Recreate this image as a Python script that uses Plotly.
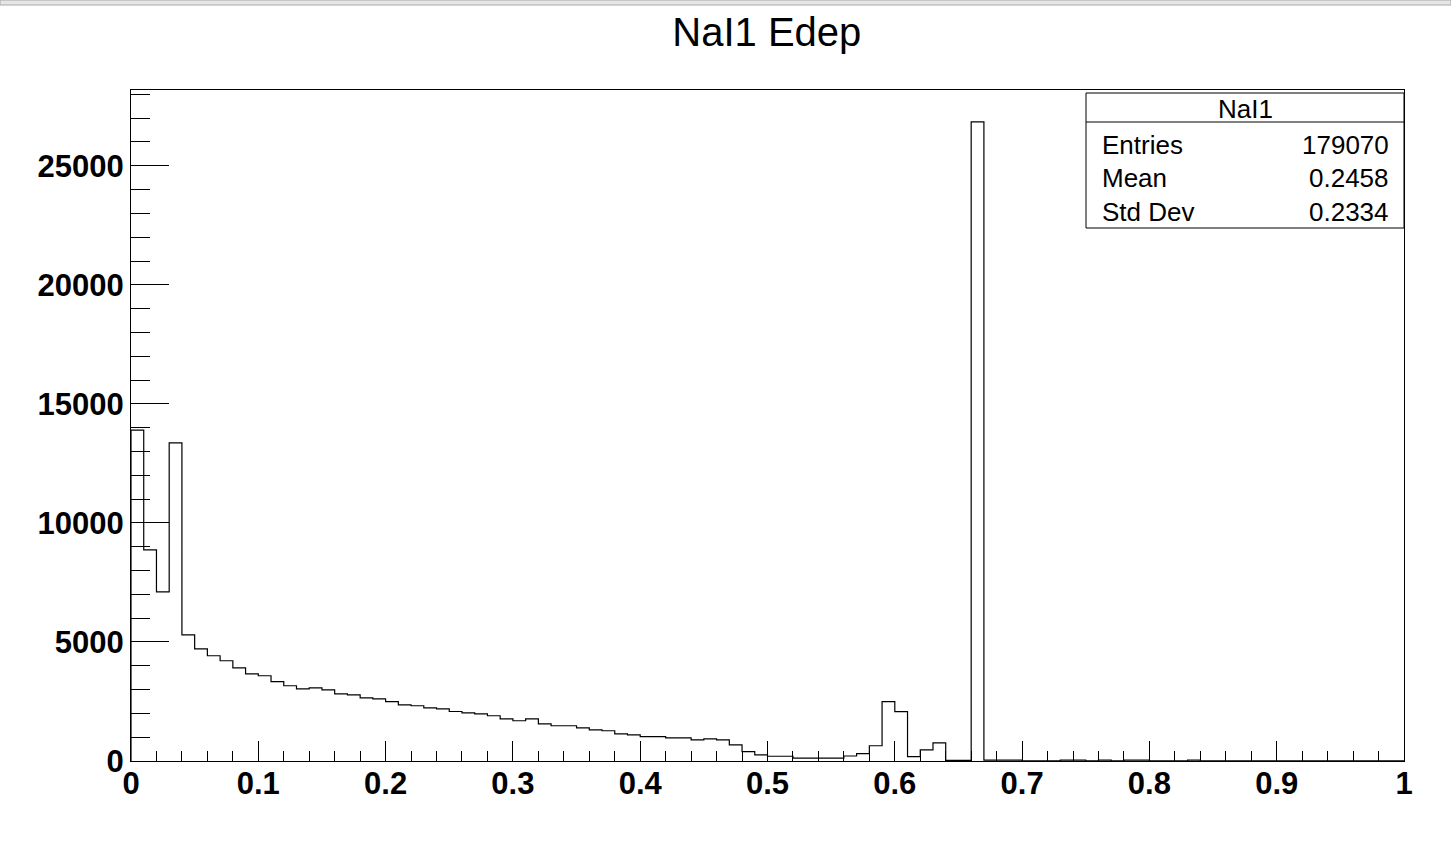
import numpy as np
import plotly.graph_objects as go

# NaI1 Edep histogram (100 bins, 0 ~ 1)
bin_lo = 0.0
bin_hi = 1.0
counts = [
    13900, 8870, 7100, 13360, 5300, 4710, 4420, 4210, 3910, 3660,
    3580, 3330, 3160, 3030, 3070, 2990, 2820, 2780, 2650, 2610,
    2490, 2360, 2320, 2230, 2190, 2080, 2020, 1980, 1900, 1770,
    1690, 1770, 1560, 1480, 1480, 1390, 1310, 1270, 1140, 1100,
    1020, 1020, 970, 970, 890, 930, 890, 680, 390, 260,
    200, 200, 120, 120, 120, 120, 210, 310, 640, 2490,
    2070, 180, 470, 760, 30, 30, 26840, 40, 40, 40,
    10, 10, 10, 40, 40, 10, 40, 10, 40, 40,
    10, 10, 10, 40, 10, 10, 10, 10, 10, 10,
    10, 10, 10, 10, 10, 10, 10, 10, 10, 10,
]

# stats box
stat_title = "NaI1"
stat_names = ["Entries", "Mean", "Std Dev"]
stat_values = ["179070", "0.2458", "0.2334"]

W, H = 1451, 844
M_L, M_R, M_T, M_B = 131, 47, 90, 83
plot_w = W - M_L - M_R
plot_h = H - M_T - M_B


def px_x(px):
    return (px - M_L) / plot_w


def px_y(py):
    return (H - M_B - py) / plot_h


# step outline (ROOT style)
edges = np.linspace(bin_lo, bin_hi, len(counts) + 1)
xs = [edges[0]] + list(edges[:-1]) + [edges[-1], edges[-1]]
ys = [0] + list(counts) + [counts[-1], 0]

fig = go.Figure()
fig.add_trace(go.Scatter(
    x=xs, y=ys, mode="lines",
    line=dict(color="black", width=1.2, shape="hv"),
    hoverinfo="skip", showlegend=False,
))

ymax = max(counts) * 1.05

tick_font = dict(family="Liberation Sans, Arial, sans-serif", size=31, color="black", weight="bold")

fig.update_layout(
    width=W, height=H,
    margin=dict(l=M_L, r=M_R, t=M_T, b=M_B),
    paper_bgcolor="white", plot_bgcolor="white",
    title=dict(
        text="NaI1 Edep", x=0.5285, xanchor="center", y=1 - 32 / H, yanchor="middle",
        font=dict(family="Liberation Sans, Arial, sans-serif", size=40, color="black"),
    ),
    xaxis=dict(
        range=[bin_lo, bin_hi], dtick=0.1, tick0=0,
        ticks="inside", ticklen=20, tickwidth=1, tickcolor="black",
        minor=dict(dtick=0.02, ticks="inside", ticklen=10, tickwidth=1, tickcolor="black"),
        showline=True, linecolor="black", linewidth=1, mirror=True,
        showgrid=False, zeroline=False, tickfont=tick_font, ticklabelstandoff=-5,
    ),
    yaxis=dict(
        range=[0, ymax], dtick=5000, tick0=0, tickformat="d",
        ticks="inside", ticklen=38, tickwidth=1, tickcolor="black",
        minor=dict(dtick=1000, ticks="inside", ticklen=19, tickwidth=1, tickcolor="black"),
        showline=True, linecolor="black", linewidth=1, mirror=True,
        showgrid=False, zeroline=False, tickfont=tick_font,
    ),
)

# ROOT 캔버스 상단 툴바 흔적
fig.add_shape(type="rect", xref="paper", yref="paper",
              x0=px_x(0), x1=px_x(W), y0=px_y(5), y1=px_y(0),
              fillcolor="#e6e6e6", line=dict(color="#a8a8a8", width=1), layer="above")

# stats box
box_l, box_r, box_t, box_b, box_sep = 1086, 1404, 93, 228, 122
fig.add_shape(type="rect", xref="paper", yref="paper",
              x0=px_x(box_l), x1=px_x(box_r), y0=px_y(box_b), y1=px_y(box_t),
              fillcolor="white", line=dict(color="black", width=1), layer="above")
fig.add_shape(type="line", xref="paper", yref="paper",
              x0=px_x(box_l), x1=px_x(box_r), y0=px_y(box_sep), y1=px_y(box_sep),
              line=dict(color="black", width=1), layer="above")

stat_font = dict(family="Liberation Sans, Arial, sans-serif", size=26, color="black")
fig.add_annotation(x=px_x((box_l + box_r) / 2), y=px_y(109), xref="paper", yref="paper",
                   text=stat_title, showarrow=False, xanchor="center", yanchor="middle", font=stat_font)
row_y = [145, 178, 212]
for name, val, ry in zip(stat_names, stat_values, row_y):
    fig.add_annotation(x=px_x(1100), y=px_y(ry), xref="paper", yref="paper", text=name,
                       showarrow=False, xanchor="left", yanchor="middle", font=stat_font)
    fig.add_annotation(x=px_x(1391), y=px_y(ry), xref="paper", yref="paper", text=val,
                       showarrow=False, xanchor="right", yanchor="middle", font=stat_font)

# body 기본 여백 제거, 모드바 숨김
fig.write_html("out.html", config={"displayModeBar": False},
               post_script="document.body.style.margin='0';")
